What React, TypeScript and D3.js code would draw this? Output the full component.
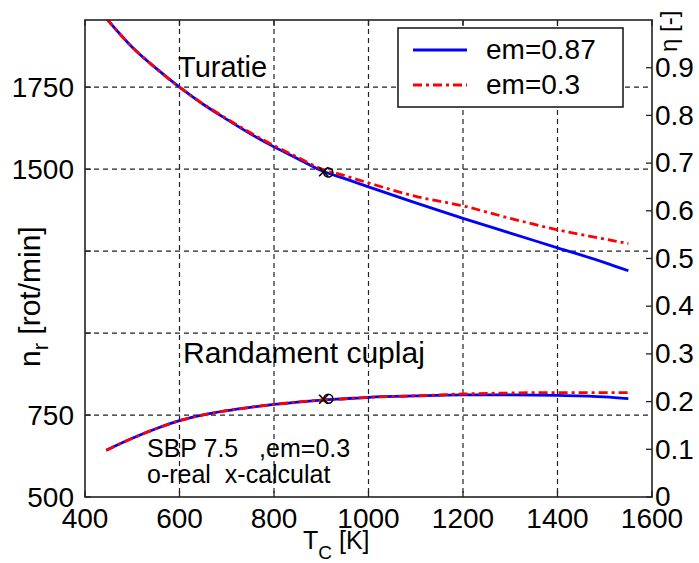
import React from "react";
import * as d3 from "d3";

const temps = [445, 500, 550, 600, 650, 700, 750, 800, 850, 900, 950, 1000, 1100, 1200, 1300, 1400, 1500, 1550];
const speedEm087 = [1960, 1872, 1808, 1750, 1698, 1652, 1608, 1568, 1532, 1496, 1471, 1446, 1397, 1350, 1305, 1260, 1215, 1190];
const speedEm03 = [1960, 1872, 1808, 1750, 1699, 1654, 1611, 1572, 1536, 1501, 1480, 1458, 1417, 1388, 1350, 1315, 1287, 1273];
const effEm087 = [0.098, 0.123, 0.143, 0.160, 0.172, 0.181, 0.188, 0.194, 0.199, 0.203, 0.206, 0.209, 0.212, 0.214, 0.214, 0.213, 0.210, 0.206];
const effEm03 = [0.098, 0.123, 0.143, 0.160, 0.172, 0.181, 0.188, 0.194, 0.199, 0.203, 0.206, 0.209, 0.212, 0.216, 0.218, 0.219, 0.219, 0.219];

const realPointT = [915];
const realPointSpeed = [1490];
const realPointEff = [0.206];
const calcPointT = [905];
const calcPointSpeed = [1492];
const calcPointEff = [0.205];

const xTicks = [400, 600, 800, 1000, 1200, 1400, 1600];
const xGrid = [600, 800, 1000, 1200, 1400];
const leftTicks = [500, 750, 1000, 1250, 1500, 1750];
const leftTickLabels = ["500", "750", "", "", "1500", "1750"];
const rightTicks = [0, 0.1, 0.2, 0.3, 0.4, 0.5, 0.6, 0.7, 0.8, 0.9];
const rightTickLabels = ["0", "0.1", "0.2", "0.3", "0.4", "0.5", "0.6", "0.7", "0.8", "0.9"];
const seriesNames = ["em=0.87", "em=0.3"];

const W = 699, H = 563;
const L = 85, R = 652, T = 20, B = 497;
const FONT = "'Liberation Sans', Arial, Helvetica, sans-serif";

export default function App() {
  const x = d3.scaleLinear().domain([400, 1600]).range([L, R]);
  const yL = d3.scaleLinear().domain([500, 1955]).range([B, T]);
  const yR = d3.scaleLinear().domain([0, 1]).range([B, T]);

  const mk = (ys: number[], s: d3.ScaleLinear<number, number>) =>
    d3.line<number>().x((_, i) => x(temps[i])).y((v) => s(v)).curve(d3.curveMonotoneX)(ys) || "";

  const blue = "#0000ff";
  const red = "#ff0000";
  const dashDot = "9,4,3,4";
  const tick = 6;

  const marker = (tx: number, ty: number, key: string, kind: "o" | "x") =>
    kind === "o" ? (
      <circle key={key} cx={tx} cy={ty} r={4.5} fill="none" stroke="#000" strokeWidth={1.6} />
    ) : (
      <path key={key} d={`M${tx - 4.5},${ty - 4.5}L${tx + 4.5},${ty + 4.5}M${tx - 4.5},${ty + 4.5}L${tx + 4.5},${ty - 4.5}`} stroke="#000" strokeWidth={1.6} />
    );

  return (
    <svg width={W} height={H} style={{ position: "absolute", left: 0, top: 0, background: "#fff" }} fontFamily={FONT}>
      <rect x={0} y={0} width={W} height={H} fill="#fff" />
      <defs>
        <clipPath id="plotclip">
          <rect x={L} y={T} width={R - L} height={B - T} />
        </clipPath>
      </defs>
      {/* grid */}
      <g stroke="#222" strokeWidth={1.2} strokeDasharray="5,4">
        {xGrid.map((v) => (
          <line key={"gx" + v} x1={x(v)} x2={x(v)} y1={T} y2={B} />
        ))}
        {leftTicks.slice(1).map((v) => (
          <line key={"gy" + v} x1={L} x2={R} y1={yL(v)} y2={yL(v)} />
        ))}
      </g>
      {/* curves */}
      <g clipPath="url(#plotclip)" fill="none">
        <path d={mk(speedEm087, yL)} stroke={blue} strokeWidth={2.8} />
        <path d={mk(effEm087, yR)} stroke={blue} strokeWidth={2.8} />
        <path d={mk(speedEm03, yL)} stroke={red} strokeWidth={2.8} strokeDasharray={dashDot} />
        <path d={mk(effEm03, yR)} stroke={red} strokeWidth={2.8} strokeDasharray={dashDot} />
      </g>
      {/* markers */}
      {realPointT.map((t, i) => marker(x(t), yL(realPointSpeed[i]), "ros" + i, "o"))}
      {calcPointT.map((t, i) => marker(x(t), yL(calcPointSpeed[i]), "cxs" + i, "x"))}
      {realPointT.map((t, i) => marker(x(t), yR(realPointEff[i]), "roe" + i, "o"))}
      {calcPointT.map((t, i) => marker(x(t), yR(calcPointEff[i]), "cxe" + i, "x"))}
      {/* annotations */}
      <text x={178} y={77} fontSize={29} fill="#000">Turatie</text>
      <text x={183} y={363} fontSize={30} fill="#000">Randament cuplaj</text>
      <text x={147} y={457} fontSize={25} fill="#000" style={{ whiteSpace: "pre" }}>{"SBP 7.5   ,em=0.3"}</text>
      <text x={147} y={483} fontSize={25} fill="#000" style={{ whiteSpace: "pre" }}>{"o-real  x-calculat"}</text>
      {/* legend */}
      <g>
        <rect x={398} y={28} width={225} height={79} fill="#fff" stroke="#111" strokeWidth={1.5} />
        <line x1={413} x2={467} y1={50} y2={50} stroke={blue} strokeWidth={2.8} />
        <line x1={413} x2={467} y1={85} y2={85} stroke={red} strokeWidth={2.8} strokeDasharray={dashDot} />
        <text x={486} y={59} fontSize={28}>{seriesNames[0]}</text>
        <text x={486} y={94} fontSize={28}>{seriesNames[1]}</text>
      </g>
      {/* axes box */}
      <rect x={L} y={T} width={R - L} height={B - T} fill="none" stroke="#222" strokeWidth={1.6} />
      {/* ticks */}
      <g stroke="#222" strokeWidth={1.3}>
        {xTicks.map((v) => (
          <g key={"xt" + v}>
            <line x1={x(v)} x2={x(v)} y1={B} y2={B - tick} />
            <line x1={x(v)} x2={x(v)} y1={T} y2={T + tick} />
          </g>
        ))}
        {leftTicks.map((v) => (
          <line key={"lt" + v} x1={L} x2={L + tick} y1={yL(v)} y2={yL(v)} />
        ))}
        {rightTicks.map((v) => (
          <line key={"rt" + v} x1={R} x2={R - tick} y1={yR(v)} y2={yR(v)} />
        ))}
      </g>
      <g fontSize={28} fill="#000">
        {xTicks.map((v) => (
          <text key={"xl" + v} x={x(v)} y={528} textAnchor="middle">{String(v)}</text>
        ))}
        {leftTicks.map((v, i) => (
          <text key={"ll" + v} x={74} y={yL(v)} dy="0.35em" textAnchor="end">{leftTickLabels[i]}</text>
        ))}
        {rightTicks.map((v, i) => (
          <text key={"rl" + v} x={655} y={yR(v)} dy="0.33em" textAnchor="start">{rightTickLabels[i]}</text>
        ))}
      </g>
      {/* axis titles */}
      <text x={303} y={549} fontSize={25} fill="#000" style={{ whiteSpace: "pre" }}>
        T<tspan fontSize={19} dy={10}>C</tspan><tspan dy={-10}>{" [K]"}</tspan>
      </text>
      <text transform="translate(40,367) rotate(-90)" fontSize={30} fill="#000" style={{ whiteSpace: "pre" }}>
        n<tspan fontSize={22} dy={8}>r</tspan><tspan dy={-8}>{" [rot/min]"}</tspan>
      </text>
      <text transform="translate(677,52) rotate(-90)" fontSize={24} fill="#000" style={{ whiteSpace: "pre" }}>
        {"η [-]"}
      </text>
    </svg>
  );
}
